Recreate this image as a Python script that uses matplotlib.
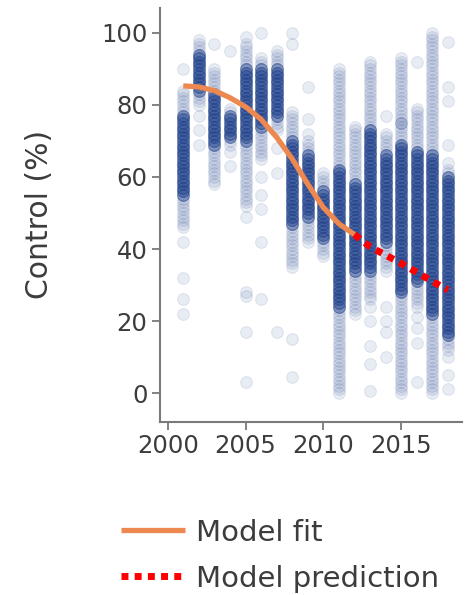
import numpy as np
import matplotlib
matplotlib.use("Agg")
import matplotlib.pyplot as plt

# years of observation
years = list(range(2001, 2019))

# dense core of each year's column (range in %, points per 1 % level)
core_lo = [55, 84, 69, 71, 70, 74, 77, 47, 49, 43, 24, 34, 34, 42, 28, 31, 22, 16]
core_hi = [77, 94, 83, 77, 90, 90, 90, 70, 66, 56, 62, 58, 73, 66, 69, 67, 66, 60]
core_n = 5

# lighter part of each column (one point per 1 % level)
mid_lo = [46, 80, 58, 69, 52, 65, 73, 35, 42, 38, 0, 22, 26, 34, 0, 24, 0, 12]
mid_hi = [84, 98, 90, 79, 97, 93, 95, 78, 70, 61, 90, 74, 92, 72, 93, 79, 100, 62]

# single scattered observations
outliers = [
    [90, 42, 32, 26, 22],
    [77, 73, 69],
    [97],
    [95, 67, 63],
    [99, 49, 28, 27, 17, 3],
    [100, 60, 55, 51, 42, 26],
    [68, 61, 17],
    [100, 97, 15, 4.5],
    [85, 76, 72],
    [],
    [],
    [],
    [24, 20, 13, 8, 0.5],
    [77, 24, 20, 17, 10],
    [75, 75],
    [92, 21, 18, 14, 3],
    [],
    [97.5, 85, 81, 69, 64, 10, 5, 1],
]

# model fit and prediction
fit_years = list(range(2001, 2013))
fit_vals = [85.3, 85.0, 84.0, 82.0, 79.5, 76.0, 71.0, 65.0, 58.0, 51.5, 47.0, 44.0]
pred_years = list(range(2012, 2019))
pred_vals = [44.0, 40.6, 38.3, 36.0, 33.5, 31.0, 28.6]

# build point cloud
xs, ys = [], []
for i, yr in enumerate(years):
    lv = np.arange(mid_lo[i], mid_hi[i] + 1)
    xs += [yr] * len(lv)
    ys += list(lv)
    lv = np.repeat(np.arange(core_lo[i], core_hi[i] + 1), core_n)
    xs += [yr] * len(lv)
    ys += list(lv)
    xs += [yr] * len(outliers[i])
    ys += outliers[i]

fig = plt.figure(figsize=(4.69, 5.95), dpi=100)
ax = fig.add_axes([0.341, 0.291, 0.644, 0.696])

ax.scatter(xs, ys, s=72, facecolor=(0.15, 0.28, 0.57, 0.10),
           edgecolor=(0.15, 0.28, 0.57, 0.12), linewidth=0.7, zorder=2)

l1, = ax.plot(fit_years, fit_vals, color='#ED8950', lw=3.8,
              solid_capstyle='butt', zorder=3)
l2, = ax.plot(pred_years, pred_vals, color='#FF0000', lw=5,
              linestyle=(0, (1, 0.9)), zorder=3)

ax.set_xlim(1999.5, 2018.9)
ax.set_ylim(-8, 107)
ax.set_xticks([2000, 2005, 2010, 2015])
ax.set_yticks([0, 20, 40, 60, 80, 100])

for s in ['top', 'right']:
    ax.spines[s].set_visible(False)
for s in ['left', 'bottom']:
    ax.spines[s].set_color('#7a7a7a')
    ax.spines[s].set_linewidth(1.5)
ax.tick_params(colors='#7a7a7a', labelcolor='#3c3c3c', labelsize=17.5,
               length=6, width=1.3, pad=3)

ax.set_ylabel('Control (%)', fontsize=21.5, color='#3c3c3c', labelpad=34)

fig.legend([l1, l2], ['Model fit', 'Model prediction'], loc='upper left',
           bbox_to_anchor=(0.226, 0.153), frameon=False, fontsize=21,
           handlelength=2.2, handletextpad=0.38, labelspacing=0.62,
           borderpad=0, labelcolor='#3c3c3c')

fig.savefig('out.png', dpi=100)
